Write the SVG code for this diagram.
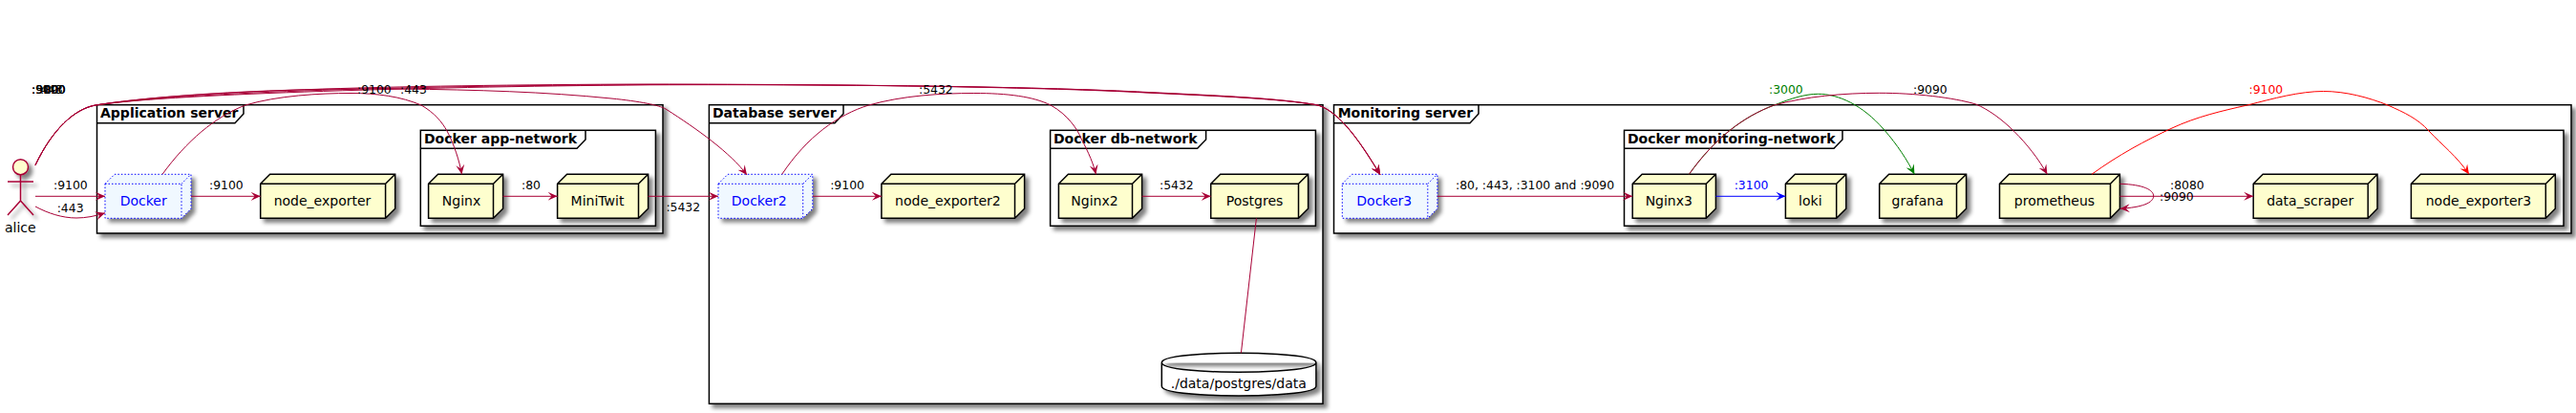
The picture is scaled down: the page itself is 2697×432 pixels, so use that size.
<svg xmlns="http://www.w3.org/2000/svg" width="2697" height="432" viewBox="0 0 2697 432">
<defs>
<filter id="shadow" x="-20%" y="-20%" width="150%" height="150%"><feGaussianBlur in="SourceAlpha" stdDeviation="2" result="b"/><feOffset in="b" dx="4" dy="4" result="o"/><feComponentTransfer in="o" result="s"><feFuncA type="linear" slope="0.5"/></feComponentTransfer><feMerge><feMergeNode in="s"/><feMergeNode in="SourceGraphic"/></feMerge></filter>
<marker id="ac" viewBox="-10 -5 11 10" refX="0" refY="0" markerWidth="11" markerHeight="10" markerUnits="userSpaceOnUse" orient="auto"><path d="M0,0L-10,-4.5L-6,0L-10,4.5Z" fill="#A80036"/></marker>
<marker id="ab" viewBox="-10 -5 11 10" refX="0" refY="0" markerWidth="11" markerHeight="10" markerUnits="userSpaceOnUse" orient="auto"><path d="M0,0L-10,-4.5L-6,0L-10,4.5Z" fill="#0000FF"/></marker>
<marker id="ag" viewBox="-10 -5 11 10" refX="0" refY="0" markerWidth="11" markerHeight="10" markerUnits="userSpaceOnUse" orient="auto"><path d="M0,0L-10,-4.5L-6,0L-10,4.5Z" fill="#008000"/></marker>
<marker id="ar" viewBox="-10 -5 11 10" refX="0" refY="0" markerWidth="11" markerHeight="10" markerUnits="userSpaceOnUse" orient="auto"><path d="M0,0L-10,-4.5L-6,0L-10,4.5Z" fill="#FF0000"/></marker>
</defs>
<style>
text{font-family:"DejaVu Sans",sans-serif;fill:#000}
.n{font-size:14px;text-anchor:middle}
.t{font-size:14px;font-weight:bold}
.l{font-size:12.4px}
.frame{fill:#fff;stroke:#000;stroke-width:1.5;filter:url(#shadow)}
.tab{fill:none;stroke:#000;stroke-width:1.5}
.node{fill:#FEFECE;stroke:#000;stroke-width:1.5;filter:url(#shadow)}
.dock{fill:#F0F8FF;stroke:#0000FF;stroke-width:1;stroke-dasharray:1.5 2;filter:url(#shadow)}
.c{fill:none;stroke:#A80036;stroke-width:1}
.blue{fill:#0000FF}
.cb{stroke:#0000FF}.cg{stroke:#008000}.cr{stroke:#FF0000}
</style>
<g id="frames">
<g id="application-server"><rect class="frame" x="101.5" y="109.7" width="592.5" height="134.3"/><path class="tab" d="M101.5,128.7H246L255,119V109.7"/><text class="t" x="105" y="123">Application server</text></g>
<g id="app-network"><rect class="frame" x="440.3" y="136.3" width="246.1" height="100"/><path class="tab" d="M440.3,155.3H604L613,146V136.3"/><text class="t" x="444" y="150.3">Docker app-network</text></g>
<g id="database-server"><rect class="frame" x="742.4" y="109.7" width="642.6" height="312.6"/><path class="tab" d="M742.4,128.7H874L883,119V109.7"/><text class="t" x="746" y="123">Database server</text></g>
<g id="db-network"><rect class="frame" x="1099.6" y="136.3" width="277.8" height="100"/><path class="tab" d="M1099.6,155.3H1253.6L1262.6,146V136.3"/><text class="t" x="1103" y="150.3">Docker db-network</text></g>
<g id="monitoring-server"><rect class="frame" x="1396.5" y="109.7" width="1295.5" height="134.3"/><path class="tab" d="M1396.5,128.7H1539L1548,119V109.7"/><text class="t" x="1400.7" y="123">Monitoring server</text></g>
<g id="monitoring-network"><rect class="frame" x="1700.5" y="136.3" width="983.5" height="100"/><path class="tab" d="M1700.5,155.3H1920L1929,146V136.3"/><text class="t" x="1704" y="150.3">Docker monitoring-network</text></g>
</g>
<g id="alice">
<g style="filter:url(#shadow)" fill="none" stroke="#A80036" stroke-width="1.5"><circle cx="21.5" cy="174.7" r="8" fill="#FEFECE"/><path d="M21.5,182.7V210M8,190H35M21.5,210L8,225M21.5,210L35,225"/></g>
<text class="n" x="21.3" y="242.7">alice</text>
</g>
<g id="docker"><path class="dock" d="M110,192.3L120,182.3H200V218.3L190,228.3H110ZM190,192.3L200,182.3M110,192.3H190V228.3"/><text class="n blue" x="150.2" y="215">Docker</text></g>
<g id="node_exporter"><path class="node" d="M272.7,192.3L282.7,182.3H413.7V218.3L403.6,228.3H272.7ZM403.6,192.3L413.7,182.3M272.7,192.3H403.6V228.3"/><text class="n" x="337.5" y="215">node_exporter</text></g>
<g id="nginx"><path class="node" d="M448.6,192.3L458.6,182.3H526.6V218.3L516.5,228.3H448.6ZM516.5,192.3L526.6,182.3M448.6,192.3H516.5V228.3"/><text class="n" x="483" y="215">Nginx</text></g>
<g id="minitwit"><path class="node" d="M583.6,192.3L593.6,182.3H678.6V218.3L668.5,228.3H583.6ZM668.5,192.3L678.6,182.3M583.6,192.3H668.5V228.3"/><text class="n" x="625.5" y="215">MiniTwit</text></g>
<g id="docker2"><path class="dock" d="M752,192.3L762,182.3H850.8V218.3L840.7,228.3H752ZM840.7,192.3L850.8,182.3M752,192.3H840.7V228.3"/><text class="n blue" x="794.8" y="215">Docker2</text></g>
<g id="node_exporter2"><path class="node" d="M922.9,192.3L932.9,182.3H1072.6V218.3L1062.5,228.3H922.9ZM1062.5,192.3L1072.6,182.3M922.9,192.3H1062.5V228.3"/><text class="n" x="992.4" y="215">node_exporter2</text></g>
<g id="nginx2"><path class="node" d="M1108.4,192.3L1118.4,182.3H1195.6V218.3L1185.5,228.3H1108.4ZM1185.5,192.3L1195.6,182.3M1108.4,192.3H1185.5V228.3"/><text class="n" x="1146" y="215">Nginx2</text></g>
<g id="postgres"><path class="node" d="M1267.7,192.3L1277.7,182.3H1369.6V218.3L1359.5,228.3H1267.7ZM1359.5,192.3L1369.6,182.3M1267.7,192.3H1359.5V228.3"/><text class="n" x="1313.6" y="215">Postgres</text></g>
<g id="postgres-data"><path class="node" style="fill:#fff" d="M1216.3,379.3C1216.3,369.3 1297,369.3 1297,369.3C1297,369.3 1377.9,369.3 1377.9,379.3V404C1377.9,414 1297,414 1297,414C1297,414 1216.3,414 1216.3,404ZM1216.3,379.3C1216.3,389.3 1297,389.3 1297,389.3C1297,389.3 1377.9,389.3 1377.9,379.3"/><text class="n" x="1296.8" y="405.7">./data/postgres/data</text></g>
<g id="docker3"><path class="dock" d="M1405.3,192.3L1415.3,182.3H1504.9V218.3L1494.8,228.3H1405.3ZM1494.8,192.3L1504.9,182.3M1405.3,192.3H1494.8V228.3"/><text class="n blue" x="1449.3" y="215">Docker3</text></g>
<g id="nginx3"><path class="node" d="M1709.2,192.3L1719.2,182.3H1796.4V218.3L1786.3,228.3H1709.2ZM1786.3,192.3L1796.4,182.3M1709.2,192.3H1786.3V228.3"/><text class="n" x="1747.3" y="215">Nginx3</text></g>
<g id="loki"><path class="node" d="M1869.4,192.3L1879.4,182.3H1932.8V218.3L1922.7,228.3H1869.4ZM1922.7,192.3L1932.8,182.3M1869.4,192.3H1922.7V228.3"/><text class="n" x="1895.3" y="215">loki</text></g>
<g id="grafana"><path class="node" d="M1967.7,192.3L1977.7,182.3H2058.6V218.3L2048.5,228.3H1967.7ZM2048.5,192.3L2058.6,182.3M1967.7,192.3H2048.5V228.3"/><text class="n" x="2007.7" y="215">grafana</text></g>
<g id="prometheus"><path class="node" d="M2093.5,192.3L2103.5,182.3H2219.4V218.3L2209.5,228.3H2093.5ZM2209.5,192.3L2219.4,182.3M2093.5,192.3H2209.5V228.3"/><text class="n" x="2151" y="215">prometheus</text></g>
<g id="data_scraper"><path class="node" d="M2359.2,192.3L2369.2,182.3H2489V218.3L2479.2,228.3H2359.2ZM2479.2,192.3L2489,182.3M2359.2,192.3H2479.2V228.3"/><text class="n" x="2418.7" y="215">data_scraper</text></g>
<g id="node_exporter3"><path class="node" d="M2524.4,192.3L2534.4,182.3H2675.3V218.3L2665.3,228.3H2524.4ZM2665.3,192.3L2675.3,182.3M2524.4,192.3H2665.3V228.3"/><text class="n" x="2595" y="215">node_exporter3</text></g>
<g id="connectors">
<path class="c" marker-end="url(#ac)" d="M37,205.3H110"/>
<path class="c" marker-end="url(#ac)" d="M37,216C50,223 65,228 80,228C90,228 100,226 110,222.8"/>
<path class="c" marker-end="url(#ac)" d="M37,172.7C55,135 78,114 100,110C190,96 330,92 420,93C500,94 570,96 640,103C670,106 690,110 697,114C730,135 765,160 782,183"/>
<path class="c" marker-end="url(#ac)" d="M37,172.7C55,135 78,114 100,110C190,97 400,90 680,88.5C900,88 1100,91 1200,96.7C1280,100.5 1340,103 1380,110C1405,118 1428,155 1445,182.7"/>
<path class="c" marker-end="url(#ac)" d="M37,172.7C55,135 78,114 100,110C190,95 400,89 680,88C900,88.2 1100,91.5 1200,97C1280,100.8 1340,103.3 1380,110C1405,118 1428,155 1445,182.7"/>
<path class="c" marker-end="url(#ac)" d="M37,172.7C55,135 78,114 100,110C170,99 420,91 680,88.8C900,88 1100,91.2 1200,96.4C1280,100.2 1340,102.7 1380,110C1405,118 1428,155 1445,182.7"/>
<path class="c" marker-end="url(#ac)" d="M170,182.3C195,148 225,122 257,110C290,100 335,97.5 367,97.5C395,97.5 420,101 441,110C455,118 463,128 468,137C475,150 481,168 483.5,182.3"/>
<path class="c" marker-end="url(#ac)" d="M200,205.3H272.7"/>
<path class="c" marker-end="url(#ac)" d="M526.6,205.3H583.6"/>
<path class="c" marker-end="url(#ac)" d="M678.6,205.3H752"/>
<path class="c" marker-end="url(#ac)" d="M818.7,182.3C845,143 877,120 909.6,110C945,100 985,97.5 1019.8,97.5C1055,97.5 1082,101 1100,110C1118,120 1128,135 1132,145C1140,160 1145,172 1147.4,182.3"/>
<path class="c" marker-end="url(#ac)" d="M850.8,205.3H922.9"/>
<path class="c" marker-end="url(#ac)" d="M1195.6,205.3H1267.7"/>
<path class="c" d="M1315.4,228.3L1299.4,369.3"/>
<path class="c" marker-end="url(#ac)" d="M1504.9,205.3H1709.2"/>
<path class="c cb" marker-end="url(#ab)" d="M1796.4,205.3H1869.4"/>
<path class="c cg" marker-end="url(#ag)" d="M1768.4,182.3C1795,145 1825,122 1857.5,110C1875,103 1890,98.3 1903.4,98.3C1925,98.3 1950,110 1972,135C1987,152 1997,168 2004.4,182.3"/>
<path class="c" marker-end="url(#ac)" d="M1768.4,182.3C1795,145 1825,122 1857.5,110C1890,101 1930,97.3 1967.7,97.3C2005,97.3 2045,102 2068.7,109C2095,120 2125,150 2143.4,182.3"/>
<path class="c" marker-end="url(#ac)" d="M2219.4,205.3H2359.2"/>
<path class="c" marker-end="url(#ac)" d="M2219.4,192.3C2245,193 2254.7,199 2254.7,205C2254.7,212 2243,217 2219.8,218.2"/>
<path class="c cr" marker-end="url(#ar)" d="M2190,182.3C2218,162 2246,147 2274,134C2300,122 2326,116 2353,110C2380,103 2408,95.5 2432.5,95.5C2456,95.5 2480,102 2500,110C2518,118 2531,124 2543,137C2557,152 2572,163 2585,182.3"/>
<text class="l" x="33" y="97.7">:9090</text><text class="l" x="33" y="97.7">:9100</text><text class="l" x="33" y="97.7">:3000</text><text class="l" x="38" y="97.7">:443</text><text class="l" x="42" y="97.7">:80</text>
<text class="l" x="56" y="198.3">:9100</text>
<text class="l" x="59.7" y="222.3">:443</text>
<text class="l" x="219" y="198.3">:9100</text>
<text class="l" x="374" y="97.7">:9100</text>
<text class="l" x="419" y="97.7">:443</text>
<text class="l" x="546" y="198.3">:80</text>
<text class="l" x="697.4" y="221.3">:5432</text>
<text class="l" x="869.2" y="198.3">:9100</text>
<text class="l" x="962" y="97.7">:5432</text>
<text class="l" x="1214" y="198.3">:5432</text>
<text class="l" x="1524" y="198.3">:80, :443, :3100 and :9090</text>
<text class="l" x="1815.7" y="198.3" style="fill:#0000FF">:3100</text>
<text class="l" x="1852" y="97.7" style="fill:#008000">:3000</text>
<text class="l" x="2003" y="97.7">:9090</text>
<text class="l" x="2272" y="198.3">:8080</text>
<text class="l" x="2261" y="209.7">:9090</text>
<text class="l" x="2354.5" y="97.7" style="fill:#FF0000">:9100</text>
</g>
</svg>
